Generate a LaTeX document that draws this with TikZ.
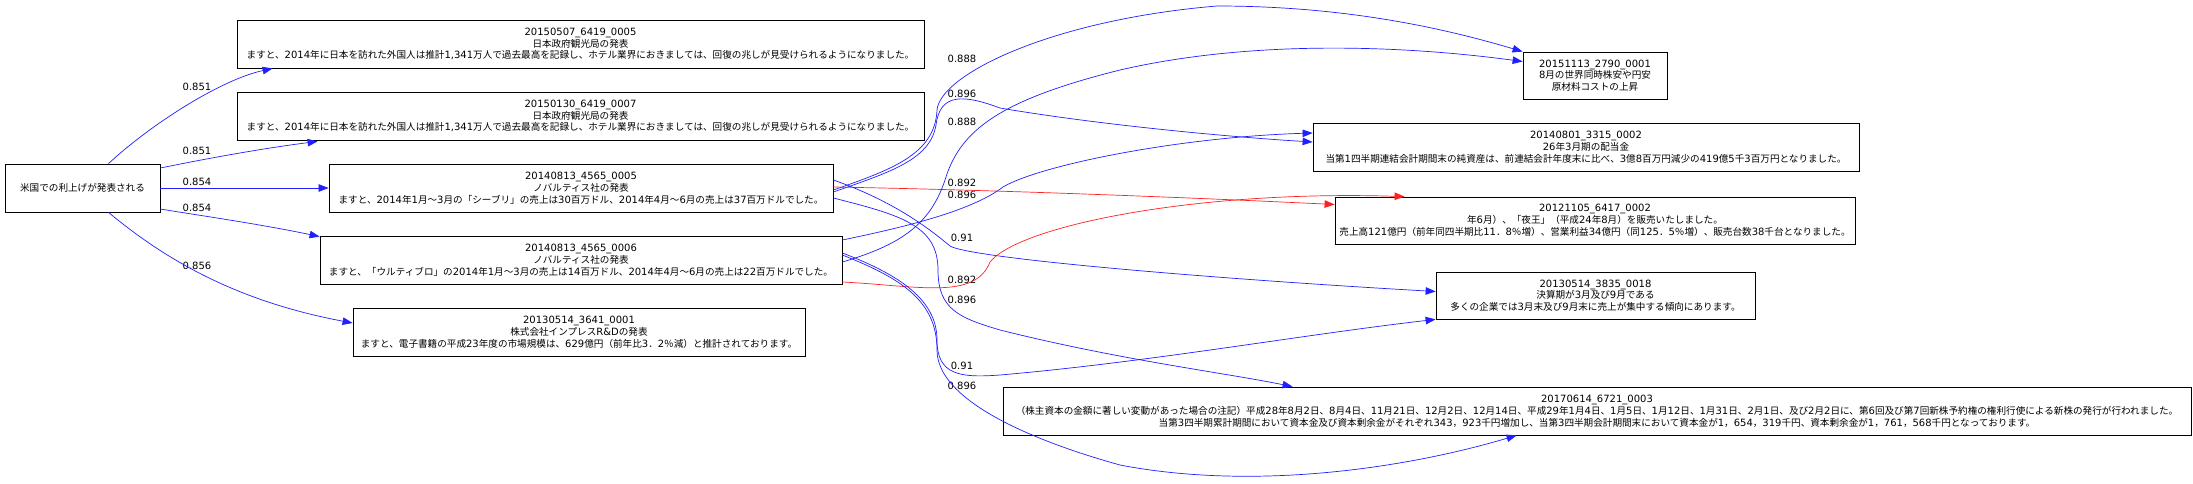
\documentclass[tikz,border=0pt]{standalone}
\usepackage{fontspec}
\setmainfont{DejaVu Sans}
\newfontfamily\latf{DejaVu Sans}
\newfontfamily\cjkf{Noto Sans CJK JP}[Scale=0.96]
\usetikzlibrary{arrows.meta,calc}
\definecolor{eblue}{RGB}{32,32,255}
\definecolor{ered}{RGB}{255,32,32}
% switch fonts between Latin and CJK runs
\newXeTeXintercharclass\CJKcls
\newcount\cjkcnt
\def\setcjkrange#1#2{\cjkcnt=#1\relax
  \loop\XeTeXcharclass\cjkcnt=\CJKcls\relax
  \ifnum\cjkcnt<#2\relax\advance\cjkcnt by 1\relax\repeat}
\setcjkrange{"3000}{"30FF}
\setcjkrange{"3400}{"4DBF}
\setcjkrange{"4E00}{"9FFF}
\setcjkrange{"FF00}{"FFEF}
\XeTeXinterchartoks 0 \CJKcls = {\cjkf}
\XeTeXinterchartoks \CJKcls 0 = {\latf}
\XeTeXinterchartoks 4095 \CJKcls = {\cjkf}
\XeTeXinterchartoks \CJKcls 4095 = {\latf}
\tikzset{
  box/.style={draw, line width=0.8pt, rectangle, inner sep=0pt, align=center,
    minimum height=48pt, font=\fontsize{10}{11.8}\selectfont},
  lbl/.style={inner sep=0pt, font=\fontsize{10}{12}\selectfont},
  eb/.style={draw=eblue, line width=0.7pt, -{Triangle[length=10pt,width=7.5pt]}},
  er/.style={draw=ered, line width=0.7pt, -{Triangle[length=10pt,width=7.5pt]}},
}
\begin{document}
\XeTeXinterchartokenstate=1
\begin{tikzpicture}[x=1pt,y=-1pt]
\fill[white] (0,0) rectangle (2193,483);
\useasboundingbox (0,0) rectangle (2193,483);

% nodes
\node[box, minimum width=155pt] (S) at (82.5,188) {米国での利上げが発表される};
\node[box, minimum width=687pt] (A) at (580.5,44) {20150507\_6419\_0005\\日本政府観光局の発表\\ますと、2014年に日本を訪れた外国人は推計1,341万人で過去最高を記録し、ホテル業界におきましては、回復の兆しが見受けられるようになりました。};
\node[box, minimum width=687pt] (B) at (580.5,116) {20150130\_6419\_0007\\日本政府観光局の発表\\ますと、2014年に日本を訪れた外国人は推計1,341万人で過去最高を記録し、ホテル業界におきましては、回復の兆しが見受けられるようになりました。};
\node[box, minimum width=504pt] (C) at (581,188) {20140813\_4565\_0005\\ノバルティス社の発表\\ますと、2014年1月～3月の「シーブリ」の売上は30百万ドル、2014年4月～6月の売上は37百万ドルでした。};
\node[box, minimum width=522pt] (D) at (581,260) {20140813\_4565\_0006\\ノバルティス社の発表\\ますと、「ウルティブロ」の2014年1月～3月の売上は14百万ドル、2014年4月～6月の売上は22百万ドルでした。};
\node[box, minimum width=452pt] (E) at (579,332) {20130514\_3641\_0001\\株式会社インプレスR\&Dの発表\\ますと、電子書籍の平成23年度の市場規模は、629億円（前年比3．2％減）と推計されております。};
\node[box, minimum width=144pt, minimum height=47pt] (F) at (1595,75.5) {20151113\_2790\_0001\\8月の世界同時株安や円安\\原材料コストの上昇};
\node[box, minimum width=546pt] (G) at (1586,147) {20140801\_3315\_0002\\26年3月期の配当金\\当第1四半期連結会計期間末の純資産は、前連結会計年度末に比べ、3億8百万円減少の419億5千3百万円となりました。};
\node[box, minimum width=520pt, minimum height=47pt] (H) at (1595,220.5) {20121105\_6417\_0002\\年6月）、「夜王」（平成24年8月）を販売いたしました。\\売上高121億円（前年同四半期比11．8％増）、営業利益34億円（同125．5％増）、販売台数38千台となりました。};
\node[box, minimum width=319pt, minimum height=47pt] (I) at (1595.5,295.5) {20130514\_3835\_0018\\決算期が3月及び9月である\\多くの企業では3月末及び9月末に売上が集中する傾向にあります。};
\node[box, minimum width=1188pt] (J) at (1597,411) {20170614\_6721\_0003\\（株主資本の金額に著しい変動があった場合の注記）平成28年8月2日、8月4日、11月21日、12月2日、12月14日、平成29年1月4日、1月5日、1月12日、1月31日、2月1日、及び2月2日に、第6回及び第7回新株予約権の権利行使による新株の発行が行われました。\\当第3四半期累計期間において資本金及び資本剰余金がそれぞれ343，923千円増加し、当第3四半期会計期間末において資本金が1，654，319千円、資本剰余金が1，761，568千円となっております。};

% edge labels
\node[lbl] (l1) at (197,87) {0.851};
\node[lbl] (l2) at (197,151) {0.851};
\node[lbl] (l3) at (197,182) {0.854};
\node[lbl] (l4) at (197,208) {0.854};
\node[lbl] (l5) at (197,266) {0.856};
\node[lbl] (m1) at (962,59) {0.888};
\node[lbl] (m2) at (962,94) {0.896};
\node[lbl] (m3) at (962,122) {0.888};
\node[lbl] (m4) at (962,183) {0.892};
\node[lbl] (m5) at (962,195) {0.896};
\node[lbl] (m6) at (962,238) {0.91};
\node[lbl] (m7) at (962,280) {0.892};
\node[lbl] (m8) at (962,300) {0.896};
\node[lbl] (m9) at (962,366) {0.91};
\node[lbl] (m10) at (962,386) {0.896};

% edges from S
\draw[eb] ($(S.north)+(26,0)$) .. controls (150,125) and (220,80) .. ($(A.south west)+(36,0)$);
\draw[eb] ($(S.east)+(0,-20)$) .. controls (185,163) and (250,150) .. ($(B.south west)+(81,1)$);
\draw[eb] (S.east) -- (C.west);
\draw[eb] ($(S.east)+(0,21)$) .. controls (190,214) and (260,224) .. ($(D.north west)+(0,1)$);
\draw[eb] ($(S.south)+(26,0)$) .. controls (160,255) and (230,300) .. ($(E.west)+(0,-9)$);

% edges from C
\draw[eb] ($(C.east)+(0,2)$) .. controls (890,170) and (935,155) .. (937,110)
  .. controls (940,75) and (1050,20) .. (1217,6)
  .. controls (1350,6) and (1450,30) .. (F.north west);
\draw[eb] ($(C.east)+(0,4)$) .. controls (890,172) and (930,160) .. (936,125)
  .. controls (940,92) and (965,95) .. (1000,108)
  .. controls (1100,125) and (1230,137) .. ($(G.west)+(0,-5)$);
\draw[er] ($(C.east)+(0,-1)$) .. controls (1000,190) and (1200,198) .. ($(H.west)+(0,-16)$);
\draw[eb] ($(C.east)+(0,-8)$) .. controls (890,200) and (925,225) .. (950,246)
  .. controls (970,258) and (1200,278) .. ($(I.west)+(0,-4)$);
\draw[eb] ($(C.east)+(0,10)$) .. controls (900,215) and (938,225) .. (938,270)
  .. controls (938,310) and (960,318) .. (1000,330)
  .. controls (1120,360) and (1220,372) .. ($(J.north west)+(290,0)$);

% edges from D
\draw[eb] ($(D.east)+(0,2)$) .. controls (900,245) and (930,225) .. (945,180)
  .. controls (960,130) and (1000,100) .. (1120,70)
  .. controls (1250,40) and (1400,45) .. ($(F.west)+(0,-14)$);
\draw[eb] ($(D.east)+(0,-20)$) .. controls (900,228) and (970,212) .. (1003,187)
  .. controls (1040,165) and (1180,137) .. ($(G.west)+(0,-14)$);
\draw[er] ($(D.east)+(0,22)$) .. controls (920,286) and (975,300) .. (990,262)
  .. controls (1020,225) and (1200,190) .. ($(H.north west)+(70,0)$);
\draw[eb] ($(D.east)+(0,-7)$) .. controls (900,275) and (937,300) .. (937,340)
  .. controls (937,375) and (960,378) .. (1000,375)
  .. controls (1150,362) and (1300,335) .. (I.south west);
\draw[eb] ($(D.east)+(0,-5)$) .. controls (900,278) and (937,300) .. (937,350)
  .. controls (937,400) and (1030,440) .. (1120,465)
  .. controls (1250,490) and (1400,470) .. ($(J.south west)+(514,0)$);
\end{tikzpicture}
\end{document}
